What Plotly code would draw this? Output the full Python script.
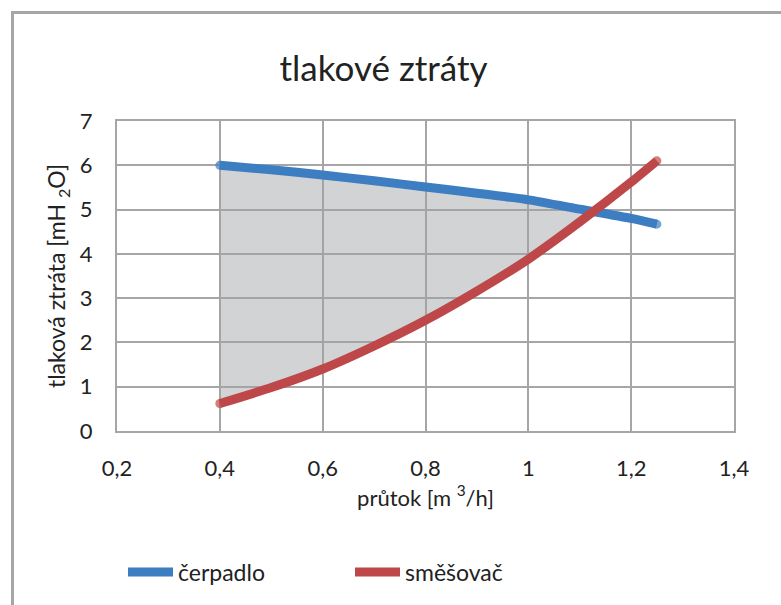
import plotly.graph_objects as go

# data
flow = [0.4, 0.5, 0.6, 0.7, 0.8, 0.9, 1.0, 1.1, 1.2, 1.25]
pump = [6.0, 5.9, 5.78, 5.65, 5.51, 5.37, 5.22, 5.01, 4.8, 4.67]
mixer = [0.62, 0.98, 1.4, 1.92, 2.5, 3.16, 3.88, 4.72, 5.62, 6.1]
cross_x, cross_y = 1.12, 4.97  # where the two curves meet

series_names = ["čerpadlo", "směšovač"]
colors = ["#3d7dc1", "#be4849"]
x_ticks = [0.2, 0.4, 0.6, 0.8, 1.0, 1.2, 1.4]
y_ticks = [0, 1, 2, 3, 4, 5, 6, 7]

FONT = "Lato"
TXT = "#222222"
GRID = "#a6a6a6"
fig = go.Figure()

# shaded region between the curves
fx = [x for x in flow if x < cross_x]
fp = [p for x, p in zip(flow, pump) if x < cross_x]
fm = [m for x, m in zip(flow, mixer) if x < cross_x]
poly_x = fx + [cross_x] + fx[::-1]
poly_y = fp + [cross_y] + fm[::-1]
fig.add_trace(go.Scatter(x=poly_x, y=poly_y, fill="toself", mode="none",
                         fillcolor="rgba(160,163,168,0.48)", showlegend=False,
                         hoverinfo="skip"))

for name, vals, c in zip(series_names, [pump, mixer], colors):
    sizes = [9 if i in (0, len(flow) - 1) else 0 for i in range(len(flow))]
    fig.add_trace(go.Scatter(x=flow, y=vals, name=name, mode="lines+markers",
                             line=dict(color=c, width=9, shape="spline", smoothing=0.6),
                             marker=dict(size=sizes, color=c, line=dict(width=0))))

L, R, T, B = 117, 47, 121, 174
W, H = 781, 605
pw, ph = W - L - R, H - T - B
def px(xp): return (xp - L) / pw
def py(yp): return (H - B - yp) / ph

fig.update_layout(
    width=W, height=H,
    margin=dict(l=L, r=R, t=T, b=B),
    paper_bgcolor="white", plot_bgcolor="white",
    separators=", ",
    font=dict(family=FONT, size=22, color=TXT),
    title=dict(text="tlakové ztráty", x=px(420), xanchor="center",
               y=1 - 69 / H, yanchor="middle",
               font=dict(family=FONT, size=35, color=TXT)),
    xaxis=dict(range=[0.2, 1.4], tickvals=x_ticks, showgrid=True,
               gridcolor=GRID, gridwidth=2, showline=True, linecolor=GRID,
               linewidth=2, mirror=True, ticks="", zeroline=False,
               tickfont=dict(size=22), ticklabelstandoff=17,
               title=dict(text="průtok [m <sup>3</sup>/h]", standoff=8,
                          font=dict(size=22))),
    yaxis=dict(range=[0, 7], tickvals=y_ticks, showgrid=True,
               gridcolor=GRID, gridwidth=2, showline=True, linecolor=GRID,
               linewidth=2, mirror=True, ticks="", zeroline=False,
               tickfont=dict(size=22), ticklabelstandoff=18,
               title=dict(text="tlaková ztráta [mH <sub>2</sub>O]", standoff=8,
                          font=dict(size=23))),
    legend=dict(orientation="h", x=px(123), xanchor="left", y=py(572), yanchor="middle",
                font=dict(size=23), itemwidth=45, tracegroupgap=0,
                entrywidth=167, entrywidthmode="pixels"),
    shapes=[
        dict(type="line", xref="paper", yref="paper", x0=px(12.5), x1=px(12.5),
             y0=py(11), y1=py(H + 5), line=dict(color=GRID, width=3)),
        dict(type="line", xref="paper", yref="paper", x0=px(11), x1=px(W + 5),
             y0=py(12.5), y1=py(12.5), line=dict(color=GRID, width=3)),
    ],
)

fig.write_html("out.html", config={"displayModeBar": False},
               post_script="document.body.style.margin='0';document.body.style.overflow='hidden';")
